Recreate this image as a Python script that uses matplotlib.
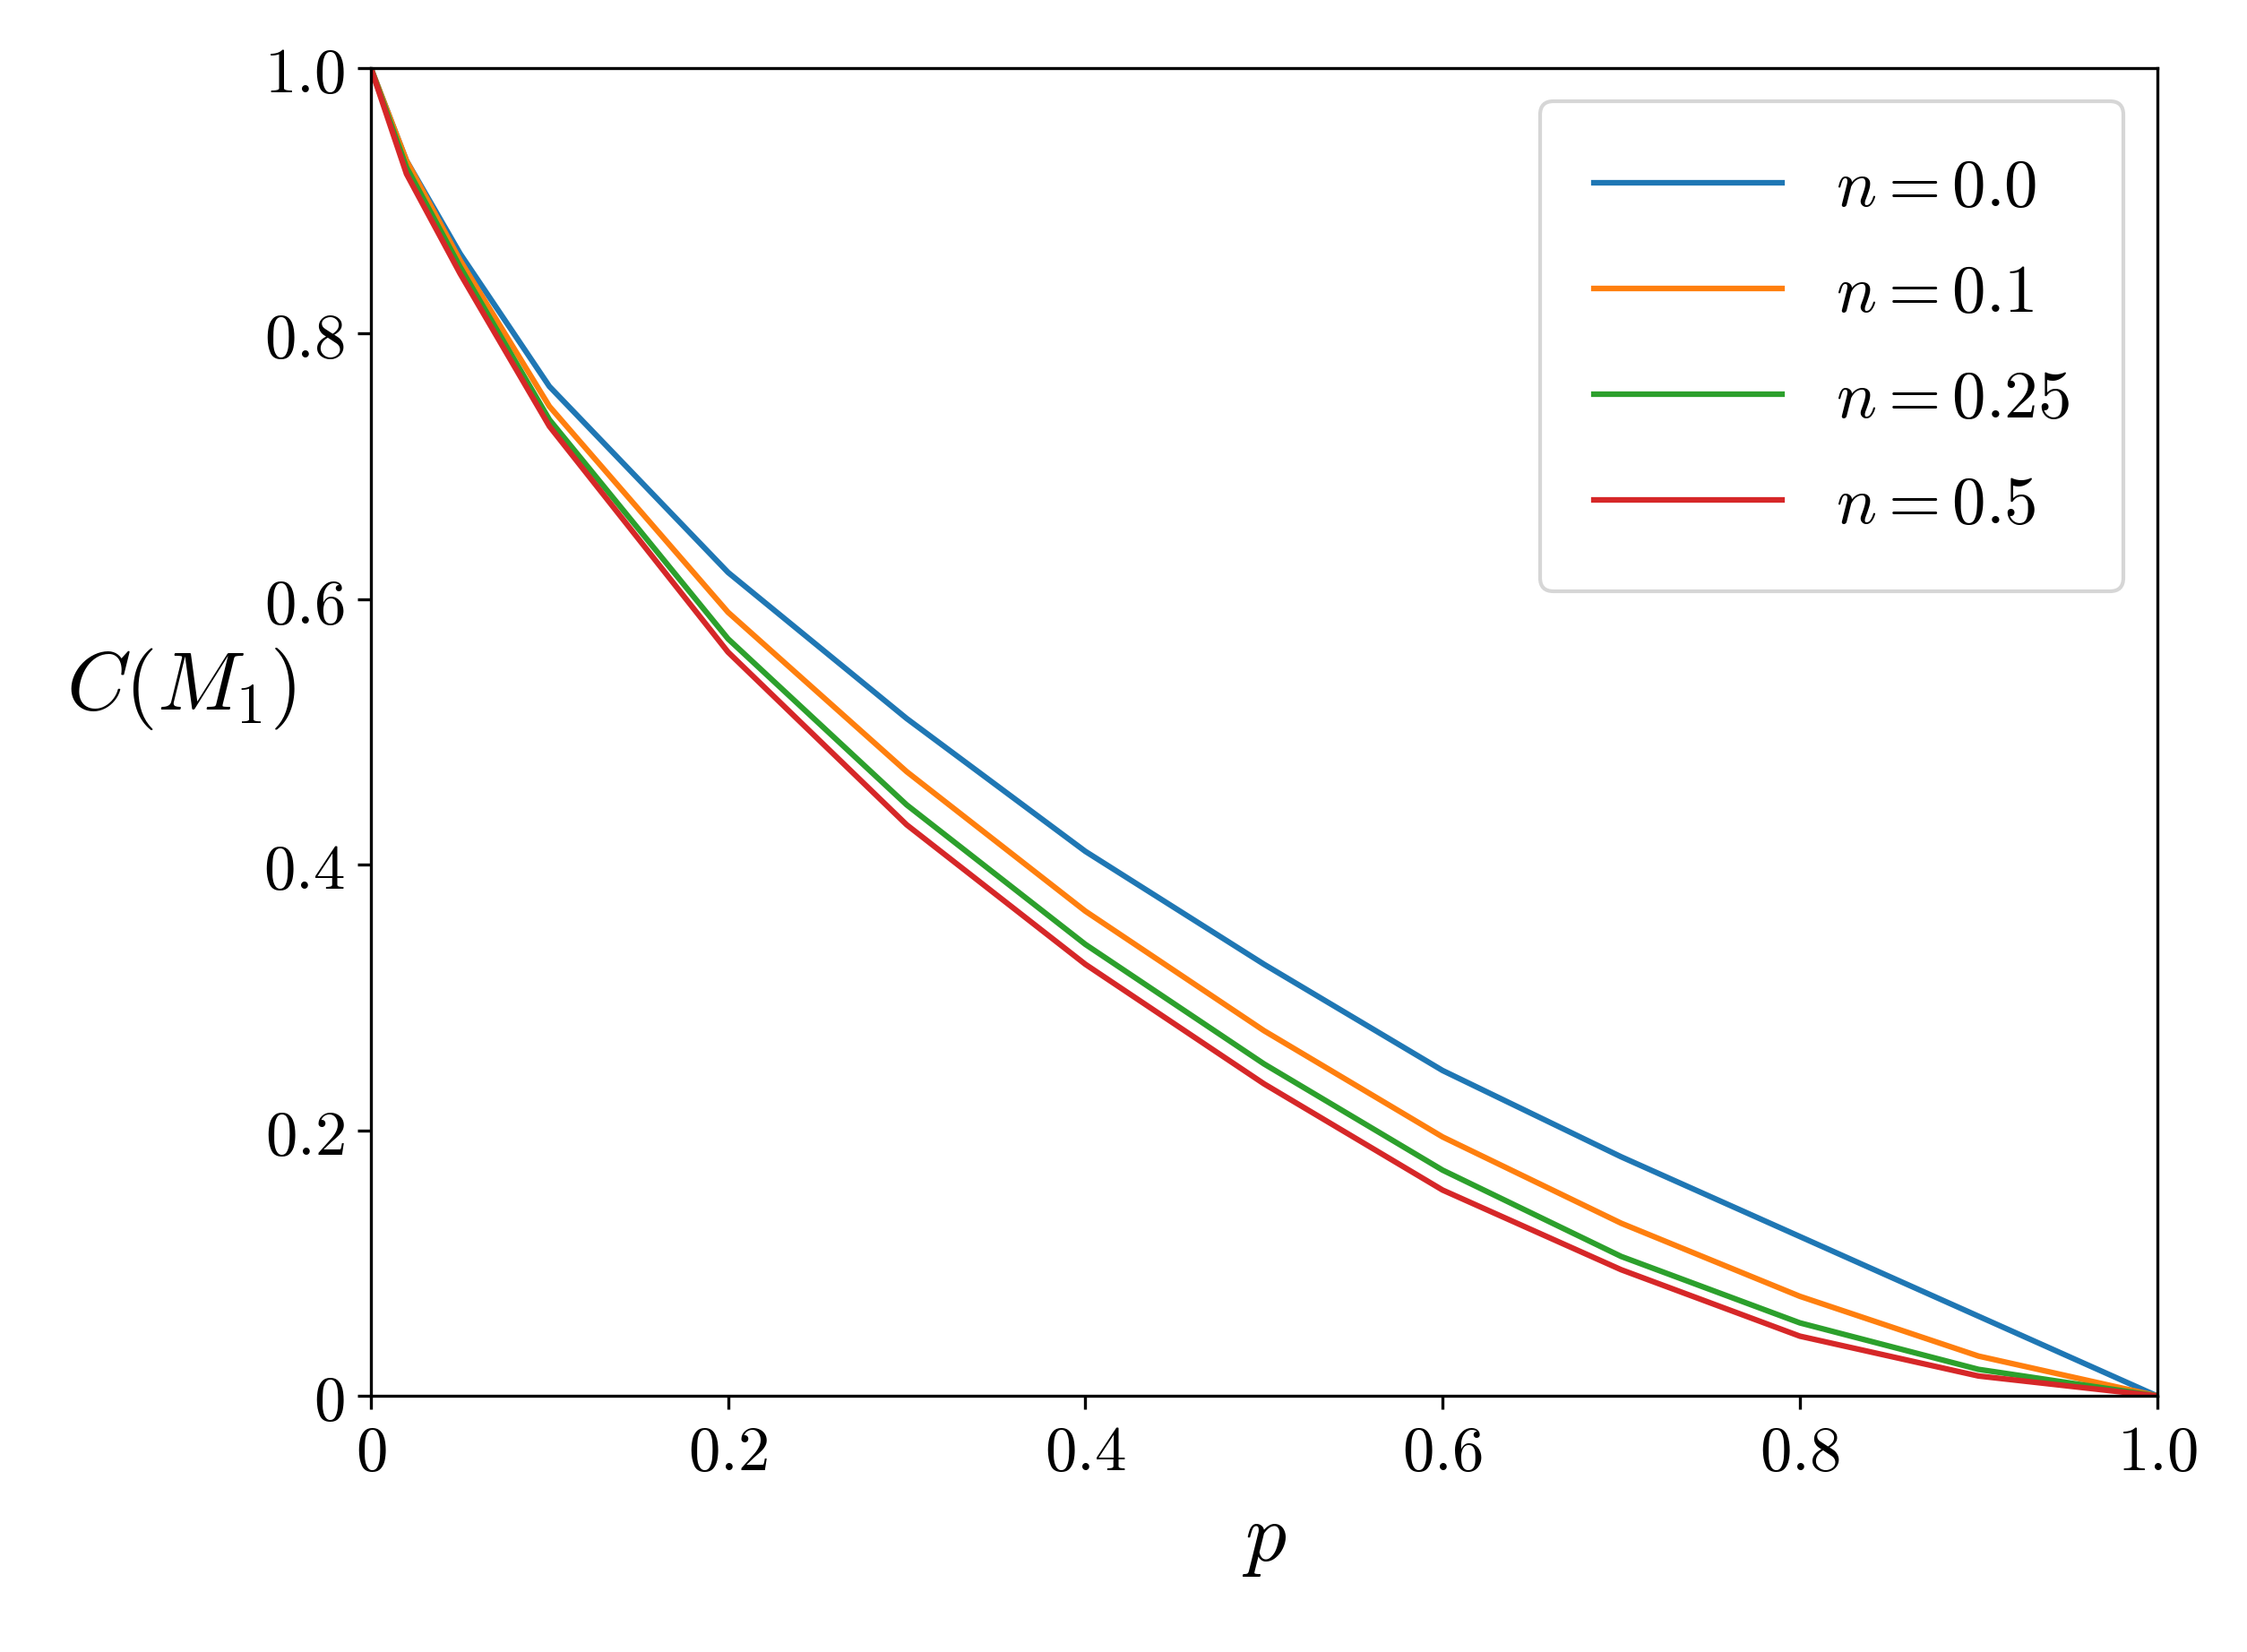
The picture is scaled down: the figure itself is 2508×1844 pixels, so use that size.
import matplotlib
matplotlib.use("Agg")
import matplotlib.pyplot as plt

plt.rcParams["mathtext.fontset"] = "cm"
plt.rcParams["font.family"] = "serif"
plt.rcParams["font.serif"] = ["DejaVu Serif"]

p = [0.0, 0.02, 0.05, 0.1, 0.2, 0.3, 0.4, 0.5, 0.6, 0.7, 0.8, 0.9, 1.0]
c_n00 = [1.0, 0.93, 0.86, 0.76, 0.62, 0.51, 0.41, 0.325, 0.245, 0.18, 0.12, 0.06, 0.0]
c_n01 = [1.0, 0.93, 0.855, 0.745, 0.59, 0.47, 0.365, 0.275, 0.195, 0.13, 0.075, 0.03, 0.0]
c_n025 = [1.0, 0.925, 0.85, 0.735, 0.57, 0.445, 0.34, 0.25, 0.17, 0.105, 0.055, 0.02, 0.0]
c_n05 = [1.0, 0.92, 0.845, 0.73, 0.56, 0.43, 0.325, 0.235, 0.155, 0.095, 0.045, 0.015, 0.0]
series = [("0.0", c_n00), ("0.1", c_n01), ("0.25", c_n025), ("0.5", c_n05)]
ticks = [0, 0.2, 0.4, 0.6, 0.8, 1.0]
tick_labels = [r"$\mathbf{0}$", r"$\mathbf{0.2}$", r"$\mathbf{0.4}$",
               r"$\mathbf{0.6}$", r"$\mathbf{0.8}$", r"$\mathbf{1.0}$"]

fig = plt.figure(figsize=(8.36, 6.147), dpi=300)
ax = fig.add_axes([0.165, 0.155, 0.795, 0.804])
for lab, vals in series:
    ax.plot(p, vals, lw=1.5, label=rf"$n = \mathbf{{{lab}}}$")
ax.set_xlim(0, 1)
ax.set_ylim(0, 1)
ax.set_xticks(ticks, tick_labels, fontsize=17)
ax.set_yticks(ticks, tick_labels, fontsize=17)
ax.set_xlabel(r"$p$", fontsize=22)
ax.set_ylabel(r"$C(M_1)$", fontsize=22, rotation=0, labelpad=22)
ax.legend(fontsize=18, borderpad=0.8, labelspacing=0.6, handlelength=2.8)
fig.savefig("out.png", dpi=300)
